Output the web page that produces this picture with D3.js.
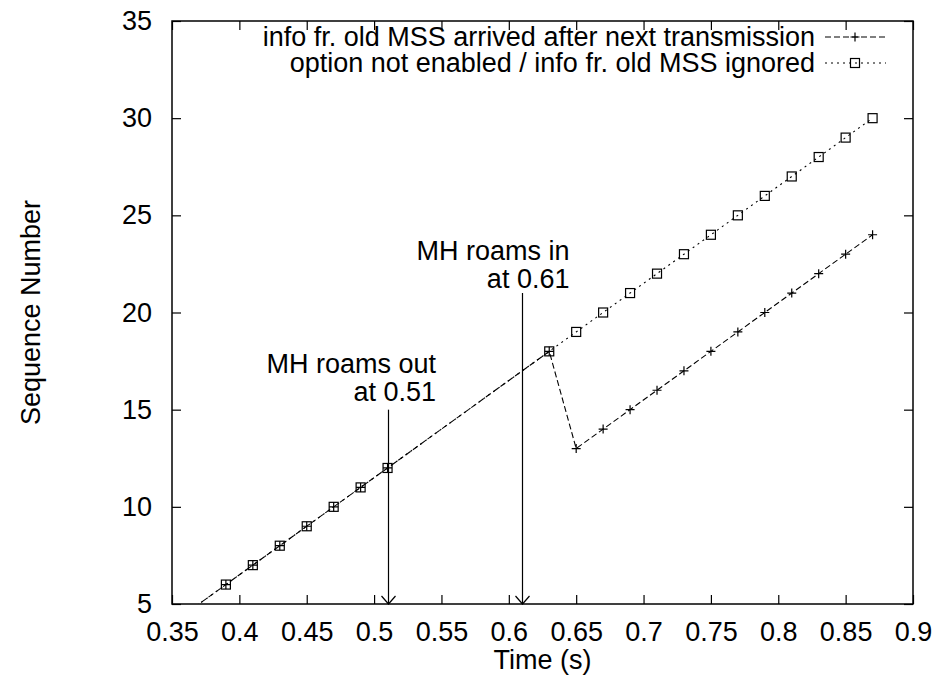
<!DOCTYPE html>
<html>
<head>
<meta charset="utf-8">
<script src="https://cdn.jsdelivr.net/npm/d3@7"></script>
<style>
  body { margin: 0; background: #fff; }
  svg { display: block; font-family: "Liberation Sans", Arial, Helvetica, sans-serif; }
</style>
</head>
<body>
<div id="chart"></div>
<script>
// Data
const times = [0.35, 0.39, 0.41, 0.43, 0.45, 0.47, 0.49, 0.51, 0.63, 0.65, 0.67, 0.69, 0.71, 0.73, 0.75, 0.77, 0.79, 0.81, 0.83, 0.85, 0.87];
const seqLate = [4, 6, 7, 8, 9, 10, 11, 12, 18, 13, 14, 15, 16, 17, 18, 19, 20, 21, 22, 23, 24];
const seqIgnored = [4, 6, 7, 8, 9, 10, 11, 12, 18, 19, 20, 21, 22, 23, 24, 25, 26, 27, 28, 29, 30];
const seriesNames = ["info fr. old MSS arrived after next transmission", "option not enabled / info fr. old MSS ignored"];
const xTicks = [0.35, 0.4, 0.45, 0.5, 0.55, 0.6, 0.65, 0.7, 0.75, 0.8, 0.85, 0.9];
const yTicks = [5, 10, 15, 20, 25, 30, 35];
const roamEvents = [
  {t: 0.51, top: 15, lines: ["MH roams out", "at 0.51"], lx: 0.546, ly: 16.9},
  {t: 0.61, top: 21, lines: ["MH roams in", "at 0.61"], lx: 0.645, ly: 22.7}
];

// Set up dimensions
const margin = {top: 21, right: 27, bottom: 78, left: 172};
const width = 940 - margin.left - margin.right;
const height = 682 - margin.top - margin.bottom;
const fontSize = 27;

const svg = d3.select("#chart")
    .append("svg")
    .attr("width", 940)
    .attr("height", 682);

const g = svg.append("g")
    .attr("transform", `translate(${margin.left},${margin.top})`);

const x = d3.scaleLinear().domain([0.35, 0.9]).range([0, width]);
const y = d3.scaleLinear().domain([5, 35]).range([height, 0]);

svg.append("defs").append("clipPath")
    .attr("id", "plot-clip")
    .append("rect")
    .attr("width", width)
    .attr("height", height);

const fmt = d => String(+d.toFixed(2));

// Axes with inward ticks, mirrored on top and right
function styleAxis(sel) {
    sel.select(".domain").remove();
    sel.selectAll("line").attr("stroke", "#000").attr("stroke-width", 1.2);
    sel.selectAll("text").attr("font-size", fontSize).attr("fill", "#000")
        .attr("font-family", "Liberation Sans, Arial, sans-serif");
}

g.append("g")
    .attr("transform", `translate(0,${height})`)
    .call(d3.axisBottom(x).tickValues(xTicks).tickFormat(fmt).tickSizeInner(-9).tickSizeOuter(0).tickPadding(18))
    .call(styleAxis);

g.append("g")
    .call(d3.axisTop(x).tickValues(xTicks).tickFormat("").tickSizeInner(-9).tickSizeOuter(0))
    .call(styleAxis);

g.append("g")
    .call(d3.axisLeft(y).tickValues(yTicks).tickSizeInner(-9).tickSizeOuter(0).tickPadding(20))
    .call(styleAxis);

g.append("g")
    .attr("transform", `translate(${width},0)`)
    .call(d3.axisRight(y).tickValues(yTicks).tickFormat("").tickSizeInner(-9).tickSizeOuter(0))
    .call(styleAxis);

// Border
g.append("rect")
    .attr("width", width)
    .attr("height", height)
    .attr("fill", "none")
    .attr("stroke", "#000")
    .attr("stroke-width", 1.5);

// Series
const series = [
    {name: seriesNames[0], values: seqLate, dash: "6,3", marker: "plus"},
    {name: seriesNames[1], values: seqIgnored, dash: "2,4", marker: "square"}
];

const line = d3.line()
    .x(d => x(d[0]))
    .y(d => y(d[1]));

function drawMarker(sel, type, cx, cy) {
    const s = 4.5;
    if (type === "plus") {
        sel.append("path")
            .attr("d", `M${cx - s},${cy}H${cx + s}M${cx},${cy - s}V${cy + s}`)
            .attr("stroke", "#000").attr("stroke-width", 1.2).attr("fill", "none");
    } else {
        sel.append("rect")
            .attr("x", cx - s).attr("y", cy - s)
            .attr("width", 2 * s).attr("height", 2 * s)
            .attr("stroke", "#000").attr("stroke-width", 1.2).attr("fill", "none");
    }
}

const plot = g.append("g").attr("clip-path", "url(#plot-clip)");

series.slice().reverse().forEach(s => {
    const pts = times.map((t, i) => [t, s.values[i]]);
    plot.append("path")
        .datum(pts)
        .attr("fill", "none")
        .attr("stroke", "#000")
        .attr("stroke-width", 1.1)
        .attr("stroke-dasharray", s.dash)
        .attr("d", line);
    const mg = plot.append("g");
    pts.filter(p => p[1] > 5).forEach(p => drawMarker(mg, s.marker, x(p[0]), y(p[1])));
});

// Roaming arrows and labels
roamEvents.forEach(ev => {
    const ax = Math.round(x(ev.t)) + 0.5;
    const y0 = y(ev.top), y1 = y(5);
    g.append("line")
        .attr("x1", ax).attr("x2", ax)
        .attr("y1", y0).attr("y2", y1)
        .attr("stroke", "#000").attr("stroke-width", 1.2);
    g.append("path")
        .attr("d", `M${ax - 7},${y1 - 8}L${ax},${y1}L${ax + 7},${y1 - 8}`)
        .attr("fill", "none").attr("stroke", "#000").attr("stroke-width", 1.2);
    const txt = g.append("text")
        .attr("text-anchor", "end")
        .attr("font-size", fontSize)
        .attr("fill", "#000");
    ev.lines.forEach((l, i) => {
        txt.append("tspan")
            .attr("x", x(ev.lx))
            .attr("y", y(ev.ly) + i * 28)
            .text(l);
    });
});

// Legend
const legend = g.append("g");
series.forEach((s, i) => {
    const ly = 16 + i * 26;
    legend.append("text")
        .attr("x", 643)
        .attr("y", ly)
        .attr("dy", "0.35em")
        .attr("text-anchor", "end")
        .attr("font-size", fontSize)
        .text(s.name);
    legend.append("line")
        .attr("x1", 653).attr("x2", 714)
        .attr("y1", ly).attr("y2", ly)
        .attr("stroke", "#000").attr("stroke-width", 1.1)
        .attr("stroke-dasharray", s.dash);
    drawMarker(legend, s.marker, 683, ly);
});

// Axis labels
svg.append("text")
    .attr("x", margin.left + width / 2)
    .attr("y", 669)
    .attr("text-anchor", "middle")
    .attr("font-size", fontSize)
    .text("Time (s)");

svg.append("text")
    .attr("transform", `translate(40,${margin.top + height / 2}) rotate(-90)`)
    .attr("text-anchor", "middle")
    .attr("font-size", fontSize)
    .text("Sequence Number");
</script>
</body>
</html>
